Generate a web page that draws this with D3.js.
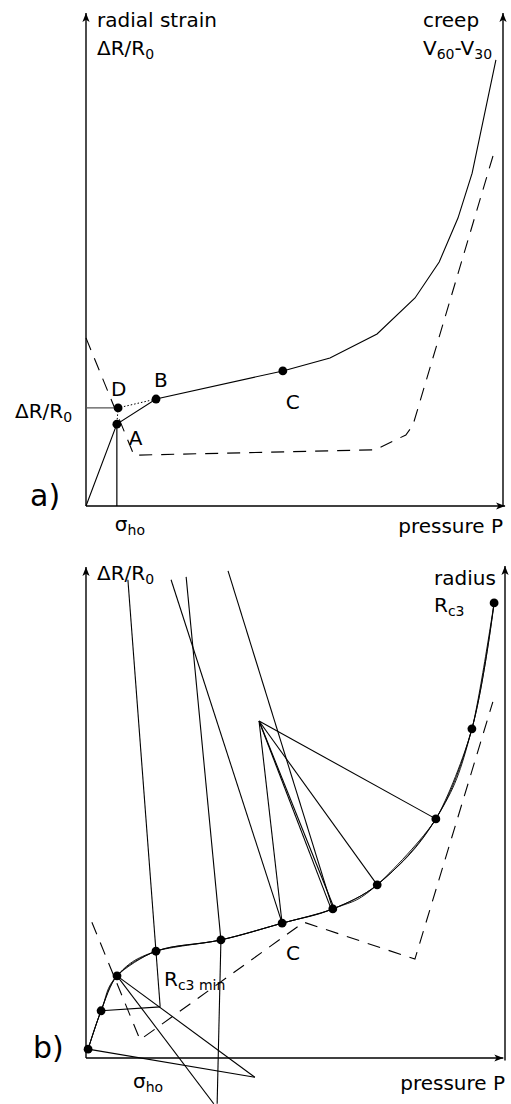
<!DOCTYPE html>
<html><head><meta charset="utf-8">
<script src="https://cdn.jsdelivr.net/npm/d3@7"></script>
<style>
body{margin:0;background:#fff}
text{font-family:"DejaVu Sans",sans-serif;fill:#000}
</style>
</head><body><svg id="c" width="511" height="1104"></svg>
<script>
// ---------- Panel a data (percent of axis length) ----------
const aStrainP = [0, 7.4, 16.8, 47.2, 58.5, 69.8, 78.9, 84.7, 89.2, 92.6, 98.3];
const aStrainV = [0, 16.6, 21.7, 27.4, 30.0, 34.9, 42.2, 49.5, 58.4, 67.5, 90.5];
const aCreepP  = [0, 11.5, 69.3, 76.7, 78.4, 97.6];
const aCreepV  = [34.1, 10.3, 11.4, 14.4, 16.4, 71.0];
const aPointNames = ["A", "D", "B", "C"];
const aPointP  = [7.4, 7.7, 16.8, 47.2];
const aPointV  = [16.6, 19.9, 21.7, 27.4];

// ---------- Panel b data ----------
const bRadiusP = [0.5, 3.6, 7.4, 16.7, 32.2, 46.8, 58.9, 69.5, 83.5, 92.1, 97.4];
const bRadiusV = [1.8, 9.6, 16.7, 21.7, 24.0, 27.4, 30.3, 35.2, 48.6, 66.9, 92.5];
const bCreepP  = [1.4, 12.9, 52.0, 78.5, 97.1];
const bCreepV  = [27.6, 3.7, 27.6, 20.1, 72.4];
// construction lines (radii of the fitted circles)
const bLineP1 = [0.5, 7.4, 7.4, 3.6, 17.7, 32.2, 32.2, 46.8, 58.9, 41.3, 41.3, 41.5, 41.3, 41.3];
const bLineV1 = [1.8, 16.7, 16.7, 9.6, 10.4, 24.0, 24.0, 27.4, 30.3, 68.5, 68.5, 68.1, 68.5, 68.5];
const bLineP2 = [40.3, 40.3, 30.5, 17.7, 10.0, 23.9, 31.3, 20.3, 33.9, 46.8, 58.5, 59.2, 69.5, 83.5];
const bLineV2 = [-3.9, -3.9, -9.3, 10.4, 97.2, 97.8, -9.3, 97.2, 99.0, 27.4, 30.3, 30.5, 35.2, 48.6];

const svg = d3.select("#c");
const defs = svg.append("defs");
defs.append("marker").attr("id","arr").attr("viewBox","0 -5 10 10")
  .attr("refX",10).attr("refY",0).attr("markerUnits","userSpaceOnUse")
  .attr("markerWidth",11).attr("markerHeight",9).attr("orient","auto")
  .append("path").attr("d","M0,-4L10,0L0,4L2.5,0Z").attr("fill","#000");

function label(x, y, parts, size) {
  const t = svg.append("text").attr("x", x).attr("y", y).attr("font-size", size || 20);
  let cur = 0;
  parts.forEach(p => {
    const isSub = typeof p !== "string";
    const want = isSub ? 4 : 0;
    const ts = t.append("tspan").text(isSub ? p.sub : p).attr("dy", want - cur);
    if (isSub) ts.attr("font-size", 14);
    cur = want;
  });
  return t;
}

function axisLine(x1, y1, x2, y2, arrow) {
  const l = svg.append("line").attr("x1",x1).attr("y1",y1).attr("x2",x2).attr("y2",y2)
    .attr("stroke","#000").attr("stroke-width",1.4);
  if (arrow) l.attr("marker-end","url(#arr)");
}

// ================= Panel a =================
const xa = d3.scaleLinear([0, 100], [86, 503]);
const ya = d3.scaleLinear([0, 100], [506, 13]);

axisLine(xa(0), ya(0), xa(0), ya(100), true);
axisLine(xa(100), ya(0), xa(100), ya(100), true);
axisLine(xa(0), ya(0), xa(100.5), ya(0), true);

const lineA = d3.line().x(d => xa(d[0])).y(d => ya(d[1]));
svg.append("path").attr("d", lineA(aStrainP.map((p,i)=>[p,aStrainV[i]])))
  .attr("fill","none").attr("stroke","#000").attr("stroke-width",1.1);
svg.append("path").attr("d", lineA(aCreepP.map((p,i)=>[p,aCreepV[i]])))
  .attr("fill","none").attr("stroke","#000").attr("stroke-width",1.1).attr("stroke-dasharray","13,9");

const A = {p:aPointP[0], v:aPointV[0]}, D = {p:aPointP[1], v:aPointV[1]}, B = {p:aPointP[2], v:aPointV[2]};
svg.append("line").attr("x1",xa(0)).attr("y1",ya(D.v)).attr("x2",xa(D.p)).attr("y2",ya(D.v))
  .attr("stroke","#555").attr("stroke-width",1.4);
svg.append("line").attr("x1",xa(A.p)).attr("y1",ya(A.v)).attr("x2",xa(A.p)).attr("y2",ya(0))
  .attr("stroke","#000").attr("stroke-width",1.2);
svg.append("path").attr("d", lineA([[B.p,B.v],[D.p,D.v],[A.p,A.v]]))
  .attr("fill","none").attr("stroke","#000").attr("stroke-width",1).attr("stroke-dasharray","1.5,2");

svg.selectAll(".dotA").data(aPointP).join("circle")
  .attr("cx", d => xa(d)).attr("cy", (d,i) => ya(aPointV[i])).attr("r", 4.4).attr("fill","#000");

const aOff = {A:[12,21], D:[-7,-12], B:[-2,-12], C:[3,38]};
aPointNames.forEach((n,i) => {
  svg.append("text").attr("x", xa(aPointP[i]) + aOff[n][0]).attr("y", ya(aPointV[i]) + aOff[n][1])
    .attr("font-size",20).text(n);
});

label(97, 27, ["radial strain"]);
label(97, 55, ["ΔR/R", {sub:"0"}]);
label(423, 27, ["creep"]);
label(423, 55, ["V", {sub:"60"}, "-V", {sub:"30"}]);
label(15, ya(D.v) + 10, ["ΔR/R", {sub:"0"}]);
label(xa(A.p) - 2, 531, ["σ", {sub:"ho"}]);
svg.append("text").attr("x", 503).attr("y", 533).attr("text-anchor","end").attr("font-size",20).text("pressure P");
svg.append("text").attr("x", 30).attr("y", 506).attr("font-size",30).text("a)");

// ================= Panel b =================
const xb = d3.scaleLinear([0, 100], [86, 505]);
const yb = d3.scaleLinear([0, 100], [1058, 566]);

axisLine(xb(0), yb(0), xb(0), yb(99.8), true);
axisLine(xb(100), yb(-0.5), xb(100), yb(100), true);
axisLine(xb(0), yb(0), xb(99.6), yb(0), true);

const lineB = d3.line().x(d => xb(d[0])).y(d => yb(d[1]));
bLineP1.forEach((p,i) => {
  svg.append("path").attr("d", lineB([[p, bLineV1[i]], [bLineP2[i], bLineV2[i]]]))
    .attr("fill","none").attr("stroke","#000").attr("stroke-width",1.1);
});

const radPts = bRadiusP.map((p,i)=>[p,bRadiusV[i]]);
[d3.curveCatmullRom.alpha(0.5), d3.curveCardinal.tension(0.3), d3.curveCardinal.tension(-0.25)].forEach(c => {
  svg.append("path").attr("d", d3.line().curve(c).x(d => xb(d[0])).y(d => yb(d[1]))(radPts))
    .attr("fill","none").attr("stroke","#000").attr("stroke-width",0.9);
});

svg.append("path").attr("d", lineB(bCreepP.map((p,i)=>[p,bCreepV[i]])))
  .attr("fill","none").attr("stroke","#000").attr("stroke-width",1.1).attr("stroke-dasharray","13,9");

svg.selectAll(".dotB").data(radPts).join("circle")
  .attr("cx", d => xb(d[0])).attr("cy", d => yb(d[1])).attr("r", 4.4).attr("fill","#000");

label(97, 580, ["ΔR/R", {sub:"0"}]);
label(434, 585, ["radius"]);
label(434, 612, ["R", {sub:"c3"}]);
svg.append("text").attr("x", xb(bRadiusP[5]) + 4).attr("y", yb(bRadiusV[5]) + 37).attr("font-size",20).text("C");
label(164, 986, ["R", {sub:"c3 min"}]);
label(133, 1088, ["σ", {sub:"ho"}]);
svg.append("text").attr("x", 505).attr("y", 1090).attr("text-anchor","end").attr("font-size",20).text("pressure P");
svg.append("text").attr("x", 33).attr("y", 1058).attr("font-size",30).text("b)");
</script></body></html>
